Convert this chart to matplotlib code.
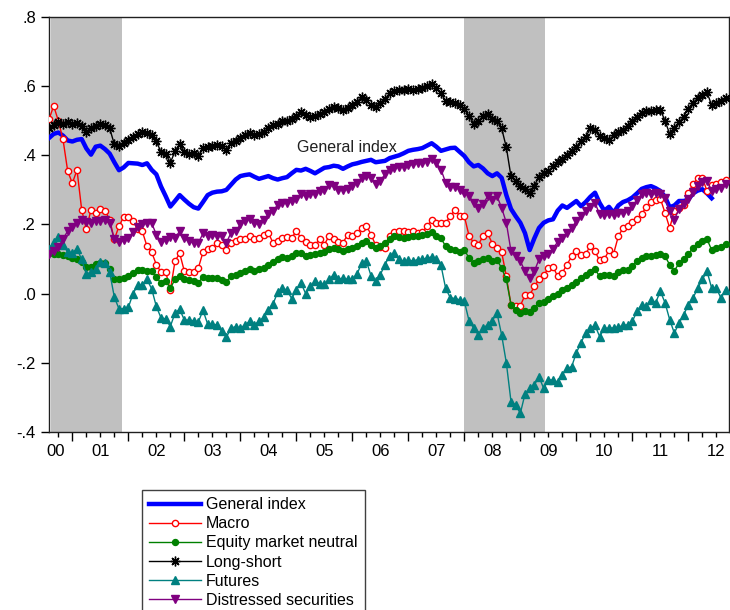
import numpy as np
import matplotlib
matplotlib.use("Agg")
import matplotlib.pyplot as plt
from matplotlib.ticker import MultipleLocator

plt.rcParams['font.family'] = ['Liberation Sans', 'DejaVu Sans']

# monthly data, Aug 2000 .. Sep 2012
start_year = 2000 + 7 / 12

general = [0.450, 0.462, 0.466, 0.457, 0.443,
           0.440, 0.445, 0.447, 0.420, 0.402, 0.425, 0.428, 0.418, 0.405, 0.380, 0.357, 0.365,
           0.378, 0.377, 0.376, 0.372, 0.377, 0.358, 0.345, 0.310, 0.282, 0.252, 0.268, 0.285,
           0.272, 0.260, 0.250, 0.246, 0.265, 0.285, 0.292, 0.295, 0.296, 0.300, 0.315, 0.330,
           0.340, 0.343, 0.345, 0.338, 0.332, 0.336, 0.340, 0.334, 0.330, 0.334, 0.337, 0.348,
           0.358, 0.356, 0.361, 0.355, 0.348, 0.356, 0.364, 0.366, 0.370, 0.368, 0.361, 0.368,
           0.374, 0.377, 0.381, 0.384, 0.387, 0.380, 0.382, 0.384, 0.392, 0.396, 0.400, 0.406,
           0.413, 0.416, 0.418, 0.421, 0.428, 0.435, 0.425, 0.413, 0.417, 0.421, 0.422, 0.410,
           0.398, 0.380, 0.368, 0.372, 0.362, 0.348, 0.340, 0.348, 0.335, 0.285, 0.245, 0.224,
           0.205, 0.175, 0.126, 0.160, 0.190, 0.205, 0.212, 0.215, 0.240, 0.255, 0.248, 0.258,
           0.268, 0.253, 0.265, 0.280, 0.292, 0.262, 0.240, 0.251, 0.234, 0.255, 0.265, 0.270,
           0.278, 0.290, 0.303, 0.308, 0.311, 0.305, 0.297, 0.280, 0.250, 0.255, 0.268, 0.268,
           0.272, 0.290, 0.298, 0.302, 0.290, 0.276]

macro = [0.504, 0.543, 0.500, 0.446, 0.355,
         0.319, 0.358, 0.243, 0.186, 0.243, 0.232, 0.245, 0.240, 0.214, 0.157, 0.195, 0.222,
         0.222, 0.210, 0.186, 0.180, 0.137, 0.120, 0.084, 0.062, 0.064, 0.010, 0.094, 0.117,
         0.065, 0.062, 0.062, 0.074, 0.120, 0.129, 0.132, 0.147, 0.142, 0.126, 0.147, 0.152,
         0.157, 0.157, 0.166, 0.157, 0.161, 0.171, 0.176, 0.147, 0.152, 0.161, 0.164, 0.161,
         0.181, 0.161, 0.149, 0.142, 0.142, 0.157, 0.142, 0.166, 0.157, 0.149, 0.147, 0.171,
         0.166, 0.174, 0.190, 0.197, 0.171, 0.140, 0.135, 0.132, 0.166, 0.178, 0.181, 0.181,
         0.178, 0.181, 0.174, 0.178, 0.195, 0.213, 0.203, 0.203, 0.203, 0.226, 0.241, 0.226,
         0.224, 0.168, 0.147, 0.142, 0.166, 0.174, 0.145, 0.131, 0.120, 0.050, -0.032, -0.035,
         -0.035, -0.004, -0.004, 0.021, 0.041, 0.054, 0.073, 0.078, 0.050, 0.061, 0.084, 0.108,
         0.122, 0.113, 0.116, 0.137, 0.122, 0.096, 0.100, 0.125, 0.116, 0.166, 0.190, 0.195,
         0.207, 0.216, 0.229, 0.252, 0.266, 0.272, 0.275, 0.234, 0.190, 0.239, 0.248, 0.255,
         0.292, 0.316, 0.335, 0.335, 0.297, 0.313, 0.316, 0.322, 0.330]

equity = [0.118, 0.116, 0.115, 0.112, 0.108,
          0.104, 0.099, 0.093, 0.076, 0.078, 0.087, 0.089, 0.088, 0.070, 0.041, 0.043, 0.045,
          0.050, 0.060, 0.067, 0.067, 0.066, 0.065, 0.048, 0.030, 0.036, 0.016, 0.041, 0.050,
          0.041, 0.040, 0.037, 0.032, 0.048, 0.046, 0.045, 0.045, 0.040, 0.034, 0.050, 0.055,
          0.060, 0.065, 0.071, 0.065, 0.070, 0.074, 0.084, 0.091, 0.099, 0.106, 0.103, 0.110,
          0.117, 0.118, 0.108, 0.113, 0.116, 0.118, 0.120, 0.128, 0.132, 0.128, 0.123, 0.128,
          0.131, 0.138, 0.147, 0.152, 0.142, 0.133, 0.137, 0.147, 0.158, 0.166, 0.164, 0.161,
          0.164, 0.166, 0.167, 0.171, 0.172, 0.178, 0.168, 0.160, 0.137, 0.129, 0.127, 0.120,
          0.127, 0.103, 0.089, 0.094, 0.099, 0.103, 0.094, 0.097, 0.074, 0.041, -0.032, -0.046,
          -0.056, -0.051, -0.054, -0.042, -0.026, -0.024, -0.015, -0.008, 0.000, 0.010, 0.015, 0.024,
          0.035, 0.046, 0.055, 0.062, 0.070, 0.050, 0.053, 0.055, 0.052, 0.062, 0.068, 0.069,
          0.079, 0.094, 0.103, 0.108, 0.110, 0.113, 0.116, 0.108, 0.084, 0.066, 0.088, 0.100,
          0.115, 0.132, 0.145, 0.152, 0.158, 0.126, 0.132, 0.134, 0.144]

longshort = [0.480, 0.488, 0.495, 0.492, 0.497,
             0.490, 0.494, 0.485, 0.468, 0.478, 0.486, 0.490, 0.488, 0.478, 0.432, 0.426, 0.437,
             0.445, 0.452, 0.463, 0.468, 0.464, 0.460, 0.440, 0.410, 0.405, 0.378, 0.412, 0.432,
             0.410, 0.405, 0.406, 0.398, 0.420, 0.425, 0.428, 0.430, 0.428, 0.415, 0.437, 0.440,
             0.450, 0.458, 0.464, 0.458, 0.462, 0.468, 0.478, 0.488, 0.492, 0.500, 0.500, 0.506,
             0.515, 0.524, 0.518, 0.512, 0.515, 0.520, 0.524, 0.535, 0.541, 0.538, 0.532, 0.538,
             0.545, 0.555, 0.568, 0.560, 0.545, 0.540, 0.552, 0.562, 0.580, 0.585, 0.588, 0.590,
             0.591, 0.590, 0.592, 0.596, 0.600, 0.606, 0.595, 0.580, 0.556, 0.555, 0.551, 0.545,
             0.535, 0.514, 0.492, 0.498, 0.514, 0.520, 0.505, 0.500, 0.478, 0.423, 0.339, 0.325,
             0.311, 0.302, 0.290, 0.312, 0.338, 0.348, 0.356, 0.368, 0.380, 0.390, 0.402, 0.412,
             0.425, 0.440, 0.452, 0.478, 0.472, 0.455, 0.450, 0.445, 0.458, 0.468, 0.474, 0.485,
             0.500, 0.512, 0.522, 0.527, 0.528, 0.530, 0.532, 0.500, 0.462, 0.480, 0.495, 0.512,
             0.535, 0.552, 0.565, 0.575, 0.582, 0.545, 0.552, 0.558, 0.565]

futures = [0.128, 0.150, 0.165, 0.142, 0.120,
           0.118, 0.130, 0.099, 0.056, 0.062, 0.070, 0.092, 0.088, 0.062, -0.010, -0.044, -0.043,
           -0.040, 0.000, 0.024, 0.026, 0.041, 0.014, -0.037, -0.070, -0.073, -0.095, -0.056, -0.045,
           -0.076, -0.077, -0.078, -0.082, -0.048, -0.088, -0.089, -0.090, -0.108, -0.126, -0.100, -0.095,
           -0.100, -0.090, -0.080, -0.090, -0.080, -0.068, -0.046, -0.030, 0.004, 0.016, 0.010, -0.014,
           0.012, 0.031, 0.000, 0.021, 0.036, 0.029, 0.027, 0.041, 0.055, 0.042, 0.045, 0.041,
           0.043, 0.056, 0.089, 0.094, 0.052, 0.036, 0.055, 0.084, 0.110, 0.118, 0.099, 0.094,
           0.096, 0.095, 0.098, 0.099, 0.103, 0.106, 0.099, 0.082, 0.015, -0.012, -0.014, -0.018,
           -0.022, -0.078, -0.100, -0.119, -0.100, -0.090, -0.078, -0.056, -0.120, -0.200, -0.312, -0.322,
           -0.346, -0.290, -0.274, -0.264, -0.240, -0.274, -0.249, -0.250, -0.256, -0.235, -0.216, -0.211,
           -0.171, -0.142, -0.113, -0.099, -0.092, -0.124, -0.100, -0.100, -0.099, -0.097, -0.092, -0.090,
           -0.080, -0.051, -0.032, -0.036, -0.017, -0.026, 0.007, -0.026, -0.075, -0.114, -0.085, -0.061,
           -0.032, -0.013, 0.016, 0.041, 0.065, 0.016, 0.016, -0.013, 0.012]

distressed = [0.115, 0.122, 0.135, 0.158, 0.181,
              0.193, 0.203, 0.212, 0.207, 0.205, 0.210, 0.209, 0.212, 0.205, 0.157, 0.148, 0.155,
              0.162, 0.178, 0.193, 0.200, 0.205, 0.204, 0.171, 0.150, 0.156, 0.165, 0.160, 0.181,
              0.160, 0.152, 0.147, 0.147, 0.174, 0.168, 0.170, 0.166, 0.166, 0.147, 0.176, 0.181,
              0.200, 0.210, 0.216, 0.205, 0.200, 0.214, 0.229, 0.239, 0.257, 0.263, 0.262, 0.268,
              0.274, 0.287, 0.282, 0.287, 0.289, 0.297, 0.301, 0.313, 0.311, 0.301, 0.300, 0.302,
              0.311, 0.321, 0.335, 0.340, 0.334, 0.316, 0.327, 0.345, 0.359, 0.364, 0.365, 0.366,
              0.371, 0.374, 0.377, 0.379, 0.381, 0.388, 0.379, 0.359, 0.321, 0.309, 0.308, 0.301,
              0.292, 0.282, 0.263, 0.248, 0.258, 0.282, 0.272, 0.282, 0.248, 0.205, 0.123, 0.108,
              0.094, 0.065, 0.045, 0.065, 0.099, 0.108, 0.115, 0.130, 0.150, 0.162, 0.174, 0.190,
              0.210, 0.225, 0.240, 0.250, 0.263, 0.229, 0.228, 0.229, 0.228, 0.234, 0.233, 0.239,
              0.253, 0.272, 0.287, 0.292, 0.287, 0.292, 0.287, 0.277, 0.239, 0.214, 0.245, 0.258,
              0.275, 0.295, 0.310, 0.323, 0.326, 0.296, 0.303, 0.306, 0.316]

# shaded periods (decimal years)
shade_periods = [(2000.62, 2001.89), (2008.0, 2009.44)]

year_labels = ['00', '01', '02', '03', '04', '05', '06', '07', '08', '09', '10', '11', '12']
ytick_vals = [-0.4, -0.2, 0.0, 0.2, 0.4, 0.6, 0.8]
ytick_labels = ['-.4', '-.2', '.0', '.2', '.4', '.6', '.8']

n = len(longshort)
t = start_year + np.arange(n) / 12
xmin, xmax = start_year, start_year + 680 / 56

fig = plt.figure(figsize=(7.3, 6.1), dpi=100)
ax = fig.add_axes([49 / 730, 1 - 432 / 610, 680 / 730, 415 / 610])

for a, b in shade_periods:
    ax.axvspan(a, b, color='#c0c0c0', lw=0, zorder=0)

ax.plot(t[:len(general)], general, color='#0000ff', lw=3.2, label='General index', zorder=3)
ax.plot(t, macro, color='#ff0000', lw=1, marker='o', ms=4.5, mfc='white', mec='#ff0000',
        mew=1, label='Macro', zorder=3)
ax.plot(t, equity, color='#008000', lw=1, marker='o', ms=4.3, label='Equity market neutral', zorder=3)
ax.plot(t, longshort, color='black', lw=1, marker=(8, 2, 0), ms=7, mew=1, label='Long-short', zorder=3)
ax.plot(t, futures, color='#008080', lw=1, marker='^', ms=5.5, label='Futures', zorder=3)
ax.plot(t, distressed, color='#800080', lw=1, marker='v', ms=6, label='Distressed securities', zorder=3)

ax.text(2005.01, 0.423, 'General index', fontsize=11.5, color='#202020', va='center', ha='left')

ax.set_xlim(xmin, xmax)
ax.set_ylim(-0.4, 0.8)
ax.set_yticks(ytick_vals, labels=ytick_labels)
ax.tick_params(axis='y', length=6, width=1, pad=3.5, labelsize=12)

# ticks: long at year start, short at quarters; labels centred on years
ax.xaxis.set_major_locator(MultipleLocator(1))
ax.xaxis.set_minor_locator(MultipleLocator(0.25))
ax.tick_params(axis='x', which='major', length=6.5, width=1, labelbottom=False)
ax.tick_params(axis='x', which='minor', length=3.5, width=1)

lab_pos = np.arange(2000, 2013) + 0.5
lab_pos[0] = xmin + 0.11
sec = ax.secondary_xaxis('bottom')
sec.set_xticks(lab_pos, labels=year_labels)
sec.tick_params(length=0, pad=9, labelsize=12)
sec.spines['bottom'].set_visible(False)

for s in ax.spines.values():
    s.set_linewidth(1)
    s.set_color('#202020')

leg = fig.legend(loc='upper left', bbox_to_anchor=(142 / 730, 1 - 490 / 610), borderaxespad=0,
                 fontsize=11.5, numpoints=1, handlelength=3.25, handletextpad=0.3,
                 labelspacing=0.26, borderpad=0.45, fancybox=False, framealpha=1)
leg.get_frame().set_edgecolor('#404040')
leg.get_frame().set_linewidth(1)

fig.savefig('out.png', dpi=100)
